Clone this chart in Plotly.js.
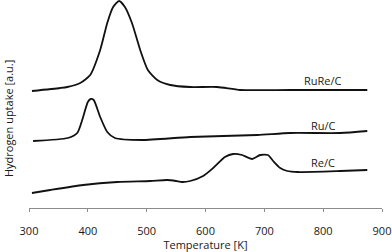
<!DOCTYPE html>
<html>
<head>
<meta charset="utf-8">
<script src="https://cdn.plot.ly/plotly-3.0.1.min.js"></script>
<style>html,body{margin:0;padding:0;background:#fff;}#chart{width:392px;height:252px;}</style>
</head>
<body>
<div id="chart"></div>
<script>
// Temperature [K] and hydrogen uptake [a.u.]
const rureT = [305, 353, 365, 387, 404, 421, 433, 443, 453, 463, 475, 489, 502, 518, 540, 574, 620, 659, 744, 875];
const rureY = [117, 120, 121, 125, 133, 158, 185, 201, 207, 201, 185, 158, 138, 128, 123, 121, 121, 118, 118, 118];

const ruT = [307, 366, 382, 392, 400, 405, 410, 421, 433, 446, 492, 574, 688, 744, 829, 875];
const ruY = [67, 70, 75, 91, 106, 109, 108, 91, 76, 70, 68, 71, 73, 75, 75, 77];

const reT = [305, 336, 392, 450, 506, 535, 550, 560, 574, 596, 613, 633, 647, 662, 679, 693, 706, 715, 727, 739, 757, 829, 875];
const reY = [15, 18, 23, 26, 27, 28, 27, 26, 27, 32, 40, 51, 54, 53, 49, 53, 53, 47, 40, 37, 36, 37, 38];

const seriesNames = ["RuRe/C", "Ru/C", "Re/C"];
const labelT = [800, 800, 800];
const labelY = [128, 83, 46];
const xTicks = [300, 400, 500, 600, 700, 800, 900];

const lineStyle = {color: "#111", width: 1.8, shape: "spline", smoothing: 0.6};
const traces = [
  {x: rureT, y: rureY, name: seriesNames[0], mode: "lines", line: lineStyle},
  {x: ruT, y: ruY, name: seriesNames[1], mode: "lines", line: lineStyle},
  {x: reT, y: reY, name: seriesNames[2], mode: "lines", line: lineStyle}
];

const font = {family: "Open Sans, sans-serif", size: 11, color: "#1a1a1a"};
const annotations = seriesNames.map((n, i) => ({
  x: labelT[i], y: labelY[i], xref: "x", yref: "y", text: n, showarrow: false,
  font: font, xanchor: "center", yanchor: "middle"
}));
annotations.push({
  xref: "paper", yref: "paper", x: -0.058, y: 0.43, text: "Hydrogen uptake [a.u.]",
  textangle: -90, showarrow: false, font: font, xanchor: "center", yanchor: "middle"
});

const layout = {
  width: 392, height: 252,
  margin: {l: 29, r: 10, t: 0, b: 44, pad: 0},
  paper_bgcolor: "#fff", plot_bgcolor: "#fff",
  showlegend: false,
  font: font,
  xaxis: {
    range: [300, 900], tickvals: xTicks, ticktext: xTicks.map(String),
    showgrid: false, zeroline: false, showline: true, linecolor: "#8c8c8c", linewidth: 1,
    ticks: "outside", ticklen: 3, tickcolor: "#8c8c8c", tickfont: font,
    ticklabelstandoff: 10,
    title: {text: "Temperature [K]", font: font, standoff: 7}
  },
  yaxis: {
    range: [0, 208], showgrid: false, zeroline: false, showline: false,
    showticklabels: false, ticks: ""
  },
  annotations: annotations
};

Plotly.newPlot("chart", traces, layout, {staticPlot: true, displayModeBar: false});
</script>
</body>
</html>
